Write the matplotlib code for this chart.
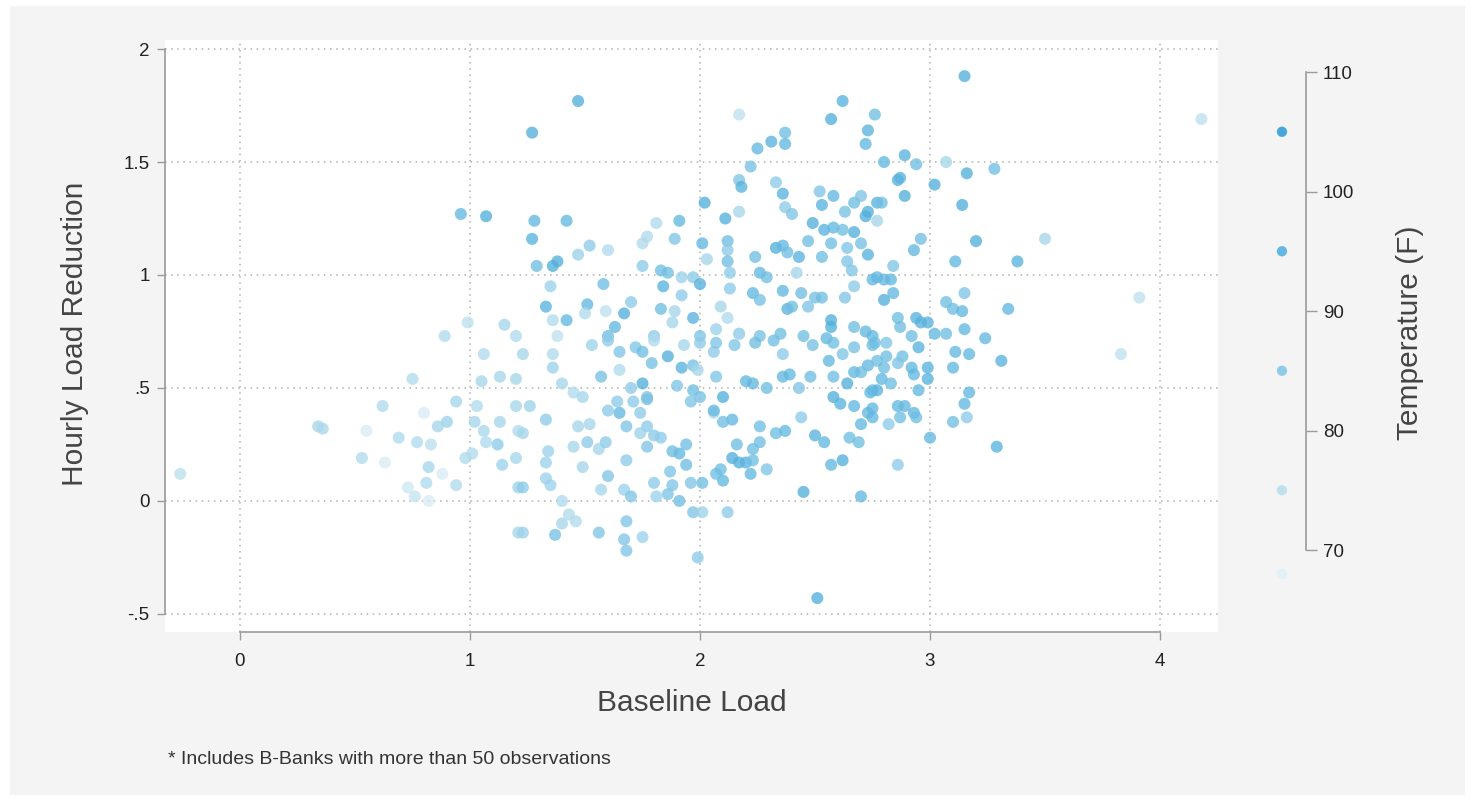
import matplotlib
matplotlib.use("Agg")
import matplotlib.pyplot as plt
from matplotlib.colors import LinearSegmentedColormap, Normalize
from matplotlib.patches import Rectangle

plt.rcParams['font.family'] = ['Liberation Sans', 'DejaVu Sans']

# values
baseline_load = [
    -0.26, 0.34, 0.36, 0.53, 0.55, 0.62, 0.63, 0.69, 0.75, 0.77, 0.80, 0.83, 0.86, 0.90, 0.82, 0.81,
    0.88, 0.94, 0.73, 0.76, 0.82, 0.94, 0.89, 1.06, 1.05, 1.03, 1.02, 0.98, 1.01, 1.06, 1.07, 1.12,
    1.14, 1.13, 1.13, 1.20, 1.20, 1.20, 1.21, 1.21, 1.21, 0.96, 1.07, 0.99, 1.15, 1.20,
    1.47, 1.27, 2.17, 2.62, 2.57, 2.76, 2.73, 2.72, 2.37, 2.31, 2.37, 2.25, 2.22, 2.17, 2.18, 2.33,
    2.36, 2.37, 2.40, 2.52, 2.58, 2.53, 2.49, 2.63, 2.70, 2.73, 2.72, 2.67, 2.54, 2.58, 2.62, 2.67,
    2.47, 2.57, 2.64, 2.70, 2.53, 2.64, 2.73, 2.66, 2.67, 2.75, 2.77, 2.77, 1.28, 1.42, 1.27, 1.29,
    1.36, 1.38, 1.47, 1.52, 1.60, 1.35, 1.58, 1.33, 1.51, 1.36, 1.42, 1.50, 1.59, 1.63, 1.67, 1.70,
    1.75, 1.77, 1.75, 1.81, 1.91, 1.89, 1.83, 1.86, 1.84, 1.92, 1.97, 2.00, 1.92, 1.83, 1.89, 1.88,
    1.97, 1.38, 1.60, 1.80, 2.00, 2.02, 2.11, 2.17, 2.01, 2.12, 2.12, 2.03, 2.12, 2.24, 2.33, 2.36,
    2.38, 2.43, 2.13, 2.13, 2.26, 2.29, 2.42, 2.36, 2.44, 2.50, 2.53, 2.63, 2.23, 2.26, 2.09, 2.38,
    2.40, 2.47, 2.57, 2.57, 2.67, 2.72, 2.12, 2.07, 2.17, 2.26, 2.35, 2.45, 2.75,
    1.53, 1.60, 1.65, 1.72, 1.75, 1.80, 1.79, 1.86, 1.93, 1.92, 1.97, 2.00, 2.06, 2.07, 2.15, 2.17,
    2.24, 2.32, 2.36, 2.49, 2.55, 2.58, 2.62, 2.56, 2.67, 2.75, 2.73, 2.67, 2.77, 1.57, 1.65, 1.75,
    1.90, 1.97, 1.99, 2.07, 2.10, 2.06, 2.20, 2.23, 2.29, 2.36, 2.39, 2.43, 2.48, 2.58, 2.64, 2.70,
    2.75, 2.58, 2.61, 2.67, 2.73, 2.70, 2.65, 2.69, 2.57, 2.62, 2.70, 2.45, 2.51, 2.50, 2.54, 2.44,
    2.33, 2.37, 2.26, 2.16, 2.14, 2.17, 2.20, 2.22, 2.29, 2.09, 2.10, 2.07, 2.01, 1.96, 1.91, 1.97,
    2.01, 2.12, 1.99, 2.23, 2.26, 2.23, 2.14, 2.10, 2.06, 2.00, 1.96, 1.94, 1.91, 1.88, 1.94, 1.87,
    1.88, 1.86, 1.81, 1.80, 1.68, 1.60, 1.57, 1.67, 1.70, 1.68, 1.56, 1.67, 1.75, 1.68, 1.37, 1.40,
    1.43, 1.46, 1.40, 1.23, 1.23, 1.35, 1.33, 1.33, 1.34, 1.49, 1.45, 1.51, 1.56, 1.59, 1.52, 1.47,
    1.33, 1.26, 1.23, 1.65, 1.68, 1.74, 1.77, 1.74, 1.80, 1.83, 1.77, 1.77, 1.71, 1.64, 1.60, 1.45,
    1.49, 1.40, 1.36, 1.36, 1.23, 1.70, 1.77,
    3.15, 4.18, 2.89, 2.80, 2.94, 3.07, 3.16, 3.28, 3.02, 2.86, 2.87, 2.79, 2.89, 3.14, 2.96, 2.93,
    3.20, 3.50, 3.11, 3.38, 2.84, 2.77, 2.80, 2.83, 2.84, 2.80, 3.15, 3.07, 3.10, 3.14, 3.34, 3.91,
    2.86, 2.87, 2.94, 2.96, 2.99, 3.02, 3.07, 3.15, 3.24, 2.92,
    3.83, 3.31, 3.11, 3.17, 3.10, 2.95, 2.88, 2.81, 2.81, 2.76, 2.80, 2.86, 2.92, 2.93, 2.99, 2.99,
    2.79, 2.83, 2.77, 2.74, 2.95, 3.17, 3.15, 3.16, 3.10, 3.00, 3.29, 2.86, 2.89, 2.93, 2.87, 2.94,
    2.82, 2.75, 2.75, 2.86,
]

load_reduction = [
    0.12, 0.33, 0.32, 0.19, 0.31, 0.42, 0.17, 0.28, 0.54, 0.26, 0.39, 0.25, 0.33, 0.35, 0.15, 0.08,
    0.12, 0.07, 0.06, 0.02, 0.00, 0.44, 0.73, 0.65, 0.53, 0.42, 0.35, 0.19, 0.21, 0.31, 0.26, 0.25,
    0.16, 0.35, 0.55, 0.54, 0.42, 0.19, 0.31, 0.06, -0.14, 1.27, 1.26, 0.79, 0.78, 0.73,
    1.77, 1.63, 1.71, 1.77, 1.69, 1.71, 1.64, 1.58, 1.63, 1.59, 1.58, 1.56, 1.48, 1.42, 1.39, 1.41,
    1.36, 1.30, 1.27, 1.37, 1.35, 1.31, 1.23, 1.28, 1.35, 1.28, 1.26, 1.32, 1.20, 1.21, 1.20, 1.19,
    1.15, 1.14, 1.12, 1.14, 1.08, 1.06, 1.09, 1.02, 0.95, 0.98, 1.24, 1.32, 1.24, 1.24, 1.16, 1.04,
    1.04, 1.06, 1.09, 1.13, 1.11, 0.95, 0.96, 0.86, 0.87, 0.80, 0.80, 0.83, 0.84, 0.77, 0.83, 0.88,
    1.04, 1.17, 1.14, 1.23, 1.24, 1.16, 1.02, 1.01, 0.95, 0.99, 0.99, 0.96, 0.91, 0.85, 0.84, 0.79,
    0.81, 0.73, 0.73, 0.73, 0.73, 1.32, 1.25, 1.28, 1.14, 1.15, 1.11, 1.07, 1.06, 1.08, 1.12, 1.13,
    1.10, 1.08, 1.01, 0.94, 1.01, 0.99, 1.01, 0.93, 0.92, 0.90, 0.90, 0.90, 0.92, 0.89, 0.86, 0.85,
    0.86, 0.86, 0.80, 0.77, 0.77, 0.75, 0.81, 0.76, 0.74, 0.73, 0.74, 0.73, 0.73,
    0.69, 0.71, 0.66, 0.68, 0.66, 0.71, 0.61, 0.64, 0.69, 0.59, 0.60, 0.70, 0.66, 0.70, 0.69, 0.74,
    0.70, 0.71, 0.65, 0.69, 0.72, 0.70, 0.65, 0.62, 0.68, 0.69, 0.60, 0.57, 0.62, 0.55, 0.58, 0.52,
    0.51, 0.49, 0.58, 0.55, 0.46, 0.39, 0.53, 0.52, 0.50, 0.55, 0.56, 0.50, 0.55, 0.55, 0.52, 0.57,
    0.49, 0.46, 0.43, 0.42, 0.39, 0.34, 0.28, 0.26, 0.16, 0.18, 0.02, 0.04, -0.43, 0.29, 0.26, 0.37,
    0.30, 0.31, 0.26, 0.25, 0.19, 0.17, 0.17, 0.12, 0.14, 0.14, 0.09, 0.12, 0.08, 0.08, 0.00, -0.05,
    -0.05, -0.05, -0.25, 0.18, 0.33, 0.23, 0.36, 0.35, 0.40, 0.46, 0.44, 0.25, 0.21, 0.22, 0.16, 0.13,
    0.07, 0.03, 0.02, 0.08, 0.18, 0.11, 0.05, 0.05, 0.02, -0.09, -0.14, -0.17, -0.16, -0.22, -0.15, -0.10,
    -0.06, -0.09, 0.00, -0.14, 0.06, 0.07, 0.10, 0.17, 0.22, 0.15, 0.24, 0.26, 0.23, 0.26, 0.34, 0.33,
    0.36, 0.42, 0.30, 0.39, 0.33, 0.39, 0.33, 0.30, 0.29, 0.28, 0.24, 0.46, 0.44, 0.44, 0.40, 0.48,
    0.46, 0.52, 0.59, 0.65, 0.65, 0.50, 0.45,
    1.88, 1.69, 1.53, 1.50, 1.49, 1.50, 1.45, 1.47, 1.40, 1.42, 1.43, 1.32, 1.35, 1.31, 1.16, 1.11,
    1.15, 1.16, 1.06, 1.06, 1.04, 0.99, 0.98, 0.98, 0.92, 0.89, 0.92, 0.88, 0.85, 0.84, 0.85, 0.90,
    0.81, 0.77, 0.81, 0.79, 0.79, 0.74, 0.74, 0.76, 0.72, 0.73,
    0.65, 0.62, 0.66, 0.65, 0.59, 0.68, 0.64, 0.70, 0.64, 0.70, 0.59, 0.61, 0.59, 0.56, 0.59, 0.54,
    0.54, 0.52, 0.49, 0.48, 0.49, 0.48, 0.43, 0.37, 0.35, 0.28, 0.24, 0.42, 0.42, 0.39, 0.37, 0.37,
    0.34, 0.41, 0.37, 0.16,
]

temperature = [
    76, 80, 79, 78, 70, 78, 70, 78, 78, 78, 70, 76, 80, 82, 80, 78,
    70, 78, 72, 74, 70, 80, 78, 78, 80, 78, 80, 78, 78, 79, 78, 85,
    82, 80, 80, 80, 80, 80, 78, 82, 80, 95, 100, 76, 80, 78,
    100, 100, 75, 98, 100, 92, 98, 95, 92, 98, 95, 95, 90, 88, 98, 85,
    98, 85, 88, 88, 95, 98, 100, 90, 88, 100, 100, 92, 98, 95, 92, 100,
    92, 92, 88, 90, 92, 88, 98, 88, 85, 95, 80, 98, 95, 95, 98, 92,
    100, 100, 82, 85, 78, 82, 92, 98, 95, 78, 95, 78, 75, 95, 100, 85,
    85, 78, 78, 78, 95, 88, 92, 92, 98, 82, 85, 100, 85, 92, 80, 80,
    98, 75, 92, 85, 88, 100, 100, 80, 95, 92, 85, 80, 92, 92, 100, 95,
    92, 98, 85, 85, 95, 92, 80, 95, 92, 90, 92, 88, 95, 90, 80, 98,
    92, 88, 100, 100, 92, 95, 78, 82, 85, 90, 92, 92, 95,
    82, 85, 88, 88, 92, 78, 90, 100, 80, 98, 90, 85, 85, 88, 88, 80,
    92, 92, 85, 90, 95, 92, 88, 95, 90, 92, 95, 95, 92, 90, 78, 100,
    88, 92, 80, 88, 100, 78, 95, 95, 92, 95, 95, 88, 92, 92, 100, 92,
    92, 100, 98, 95, 95, 95, 92, 92, 95, 100, 95, 100, 100, 98, 95, 85,
    92, 95, 92, 92, 100, 100, 98, 95, 88, 92, 95, 92, 92, 88, 92, 88,
    82, 85, 85, 92, 92, 92, 95, 92, 95, 90, 88, 92, 95, 92, 92, 88,
    88, 88, 82, 85, 85, 88, 80, 82, 88, 88, 88, 88, 82, 88, 90, 80,
    78, 78, 78, 82, 85, 82, 82, 82, 82, 80, 80, 85, 80, 85, 80, 80,
    85, 82, 80, 95, 88, 85, 85, 82, 85, 85, 88, 88, 85, 85, 85, 78,
    80, 80, 82, 78, 80, 85, 90,
    100, 75, 98, 95, 92, 80, 100, 92, 100, 98, 98, 92, 100, 100, 92, 95,
    100, 80, 95, 98, 88, 95, 95, 95, 95, 100, 88, 92, 92, 95, 95, 75,
    92, 92, 98, 98, 98, 95, 92, 95, 95, 92,
    75, 98, 95, 95, 95, 98, 92, 88, 92, 92, 92, 88, 95, 95, 98, 98,
    95, 92, 98, 95, 95, 95, 95, 85, 92, 95, 98, 95, 95, 95, 92, 92,
    85, 95, 95, 85,
]

legend_temps = [105, 95, 85, 75, 68]
x_ticks = [0, 1, 2, 3, 4]
y_ticks = [-0.5, 0, 0.5, 1, 1.5, 2]
y_tick_labels = ['-.5', '0', '.5', '1', '1.5', '2']
temp_ticks = [70, 80, 90, 100, 110]

cmap = LinearSegmentedColormap.from_list(
    'temp', [(0.0, '#e2f0f8'), (0.19, '#bfe1ef'), (0.46, '#8dcbe8'),
             (0.73, '#62b8e0'), (1.0, '#45a8d8')])
norm = Normalize(68, 105)

fig = plt.figure(figsize=(14.75, 8.01), dpi=100)
fig.patch.set_facecolor('white')
fig.patches.append(Rectangle((10 / 1475, 6 / 801), 1455 / 1475, 789 / 801,
                             transform=fig.transFigure, facecolor='#f4f4f4',
                             edgecolor='none', zorder=-10))

ax = fig.add_axes([165 / 1475, 1 - 632 / 801, 1053 / 1475, 592 / 801])
ax.set_facecolor('white')
ax.scatter(baseline_load, load_reduction, c=temperature, cmap=cmap, norm=norm,
           s=75, alpha=0.78, linewidths=0, zorder=3)
ax.set_xlim(-0.326, 4.252)
ax.set_ylim(-0.58, 2.04)
ax.set_xticks(x_ticks)
ax.set_yticks(y_ticks)
ax.set_yticklabels(y_tick_labels)
ax.grid(True, color='#b0b0b0', linestyle=(0, (1, 3)), linewidth=1.1, zorder=1)
for s in ['top', 'right']:
    ax.spines[s].set_visible(False)
ax.spines['left'].set_bounds(-0.5, 2)
ax.spines['bottom'].set_bounds(0, 4)
for s in ['left', 'bottom']:
    ax.spines[s].set_color('#9a9a9a')
    ax.spines[s].set_linewidth(1.2)
ax.tick_params(axis='both', colors='#9a9a9a', labelcolor='#222222',
               labelsize=13.5, length=6, width=1)
ax.tick_params(axis='x', pad=9)
ax.tick_params(axis='y', pad=5)

# temperature axis with key markers
ax2 = fig.add_axes([1240 / 1475, 1 - 632 / 801, 66 / 1475, 592 / 801])
ax2.set_facecolor('none')
ax2.set_xlim(0, 1)
ax2.set_ylim(63.14, 112.68)
ax2.scatter([0.636] * len(legend_temps), legend_temps, c=legend_temps,
            cmap=cmap, norm=norm, s=55, linewidths=0, clip_on=False)
for s in ['top', 'left', 'bottom']:
    ax2.spines[s].set_visible(False)
ax2.spines['right'].set_bounds(70, 110)
ax2.spines['right'].set_color('#9a9a9a')
ax2.spines['right'].set_linewidth(1.2)
ax2.set_xticks([])
ax2.yaxis.tick_right()
ax2.set_yticks(temp_ticks)
ax2.tick_params(axis='y', colors='#9a9a9a', labelcolor='#222222',
                labelsize=13.5, length=8, width=1, pad=4)

fig.text(692 / 1475, 1 - 703 / 801, 'Baseline Load', ha='center', va='center',
         fontsize=21.5, color='#444444')
fig.text(75 / 1475, 1 - 334 / 801, 'Hourly Load Reduction', ha='center',
         va='center', rotation=90, fontsize=21.5, color='#444444')
fig.text(1410 / 1475, 1 - 333 / 801, 'Temperature (F)', ha='center',
         va='center', rotation=90, fontsize=21.5, color='#444444')
fig.text(168 / 1475, 1 - 760 / 801,
         '* Includes B-Banks with more than 50 observations',
         ha='left', va='center', fontsize=14, color='#333333')

fig.savefig('out.png', dpi=100, facecolor=fig.get_facecolor())
